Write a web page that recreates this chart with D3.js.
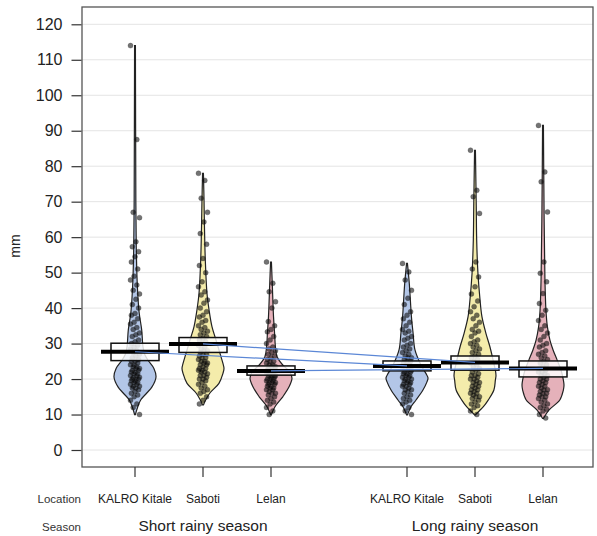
<!DOCTYPE html>
<html>
<head>
<meta charset="utf-8">
<script src="https://d3js.org/d3.v7.min.js"></script>
<style>
  body { margin: 0; background: #fff; }
  svg { font-family: "Liberation Sans", Arial, sans-serif; }
</style>
</head>
<body>
<svg width="597" height="536"></svg>
<script>
// categories
var locations = ["KALRO Kitale", "Saboti", "Lelan", "KALRO Kitale", "Saboti", "Lelan"];
var seasons = ["Short rainy season", "Long rainy season"];
var groupPos = [1, 2, 3, 5, 6, 7];
var yTicks = [0, 10, 20, 30, 40, 50, 60, 70, 80, 90, 100, 110, 120];

// means and inference band (lower, upper) in mm
var means = [27.7, 29.9, 22.3, 23.7, 24.7, 23.0];
var bandLow = [25.2, 27.5, 21.1, 22.3, 22.5, 20.6];
var bandHigh = [30.1, 31.7, 23.7, 25.1, 26.5, 25.1];

// observations (mm)
var kitaleShort = [114, 87.5, 67, 65.5, 58.7, 57.3, 55.9, 54.5, 53, 51, 49, 47.9, 46.5, 45, 44, 42.5, 41, 40, 38.5, 38, 37, 36, 35.5, 34.5, 34, 33, 32.5, 32, 31, 30.5, 30, 29.5, 29, 28.5, 28, 27.5, 27, 26.5, 26, 25.5, 25, 25, 24.5, 24, 24, 23.5, 23.5, 23, 23, 22.5, 22.5, 22, 22, 21.5, 21.5, 21, 21, 20.5, 20.5, 20, 20, 20, 19.5, 19.5, 19, 19, 18.5, 18.5, 18, 18, 17.5, 17.5, 17, 16.5, 16, 15.5, 15, 14, 13, 12, 10];
var sabotiShort = [78, 76, 71, 67, 64.3, 61, 58, 54, 52, 50, 47.4, 46, 44.6, 43.7, 42.3, 41.4, 40, 39, 38, 37.5, 36.5, 36, 35, 34.5, 34, 33.5, 33, 32.5, 32, 31.5, 31, 30.5, 30, 29.5, 29, 28.5, 28, 28, 27.5, 27, 27, 26.5, 26, 26, 25.5, 25, 25, 24.5, 24.5, 24, 24, 23.5, 23, 23, 22.5, 22.5, 22, 22, 21.5, 21, 21, 20.5, 20, 20, 19.5, 19, 18.5, 18, 17.5, 17, 16.5, 16, 15, 14, 13];
var lelanShort = [53, 47, 44.6, 41.8, 40, 36.2, 35, 34, 33.3, 32, 31, 30, 29, 28.5, 28, 27.5, 27, 26.5, 26, 25.5, 25, 25, 24.5, 24, 24, 23.5, 23.5, 23, 23, 22.5, 22.5, 22, 22, 22, 21.5, 21.5, 21, 21, 21, 20.5, 20.5, 20, 20, 20, 19.5, 19.5, 19, 19, 19, 18.5, 18.5, 18, 18, 17.5, 17.5, 17, 17, 16.5, 16, 16, 15.5, 15, 14.5, 14, 13.5, 13, 12, 11, 10];
var kitaleLong = [52.6, 50.2, 47.9, 45, 42.8, 41, 39, 38, 37, 36, 35, 34, 33.5, 33, 32, 31.5, 31, 30, 29.5, 29, 28.5, 28, 27.5, 27, 26.5, 26, 26, 25.5, 25, 25, 24.5, 24, 24, 23.5, 23, 23, 22.5, 22.5, 22, 22, 21.5, 21.5, 21, 21, 20.5, 20.5, 20, 20, 19.5, 19.5, 19, 19, 18.5, 18.5, 18, 18, 17.5, 17, 17, 16.5, 16, 15.5, 15, 14.5, 14, 13.5, 13, 12, 11, 10];
var sabotiLong = [84.5, 73.2, 71.4, 66.7, 53, 51, 48.8, 46, 44, 42, 40.4, 39, 38, 37, 36, 35, 34, 33.5, 33, 32, 31, 30.5, 30, 29.5, 29, 28.5, 28, 27.5, 27, 26.5, 26, 25.5, 25, 24.5, 24, 23.5, 23, 22.5, 22, 21.5, 21, 21, 20.5, 20, 20, 19.5, 19, 19, 18.5, 18, 18, 17.5, 17, 17, 16.5, 16, 16, 15.5, 15, 15, 14.5, 14, 13.5, 13, 12.5, 12, 11, 10];
var lelanLong = [91.5, 78.4, 75.6, 67.1, 53, 49.8, 47.4, 44.1, 41.3, 39.4, 38, 36.5, 35, 34, 33, 32, 31, 30, 29.5, 29, 28, 27.5, 27, 26.5, 26, 25.5, 25, 24.5, 24, 23.5, 23, 22.5, 22, 22, 21.5, 21, 21, 20.5, 20, 20, 19.5, 19, 19, 18.5, 18, 18, 17.5, 17, 17, 16.5, 16, 16, 15.5, 15, 15, 14.5, 14, 13.5, 13, 12.5, 12, 11.5, 11, 10, 9];

// bean outline: [mm, relative density]
var kitaleShortDens = [[10, 0.02], [12, 0.12], [14.1, 0.27], [16, 0.55], [17.8, 0.81], [20.6, 1.0], [23, 0.9], [25.3, 0.62], [27, 0.46], [29.1, 0.38], [33.8, 0.32], [38.6, 0.2], [43.2, 0.14], [47.9, 0.1], [57.3, 0.06], [70, 0.04], [90, 0.03], [114, 0.02]];
var sabotiShortDens = [[12.7, 0.02], [14, 0.12], [16, 0.32], [18.8, 0.76], [21.6, 0.95], [23, 1.0], [24.4, 0.95], [26.8, 0.83], [31, 0.62], [34.7, 0.43], [39.4, 0.29], [44.1, 0.19], [53.5, 0.11], [62.9, 0.07], [70, 0.05], [78, 0.02]];
var lelanShortDens = [[10, 0.02], [12.2, 0.19], [15, 0.56], [17.8, 0.86], [20.2, 1.0], [22, 0.9], [23.9, 0.57], [26.3, 0.29], [29.1, 0.21], [32.9, 0.17], [37.6, 0.12], [46.9, 0.06], [53, 0.02]];
var kitaleLongDens = [[9.9, 0.02], [12.2, 0.19], [14.1, 0.43], [16.9, 0.76], [19.2, 0.95], [20.3, 1.0], [21.6, 0.9], [23.9, 0.67], [28.2, 0.38], [32.9, 0.29], [37.6, 0.21], [42.3, 0.16], [46.9, 0.11], [52.6, 0.02]];
var sabotiLongDens = [[9.9, 0.02], [11, 0.2], [12.2, 0.4], [14, 0.62], [16.9, 0.9], [19.7, 0.97], [21, 1.0], [22.5, 0.97], [25.4, 0.86], [29.1, 0.71], [32.9, 0.52], [37.6, 0.33], [42.3, 0.24], [49.8, 0.14], [59.2, 0.08], [68.6, 0.06], [84.5, 0.02]];
var lelanLongDens = [[8.9, 0.02], [11.3, 0.29], [14.1, 0.8], [16.9, 0.97], [18.3, 1.0], [19.7, 0.97], [22.5, 0.86], [25.4, 0.67], [28.2, 0.48], [31, 0.33], [34.7, 0.21], [39.4, 0.14], [48.8, 0.09], [67.6, 0.05], [91.5, 0.02]];

var points = [kitaleShort, sabotiShort, lelanShort, kitaleLong, sabotiLong, lelanLong];
var dens = [kitaleShortDens, sabotiShortDens, lelanShortDens, kitaleLongDens, sabotiLongDens, lelanLongDens];

var fills = ["#b3c6e7", "#f4ecab", "#e5b1ba", "#b3c6e7", "#f4ecab", "#e5b1ba"];

var svg = d3.select("svg");
var frame = {left: 82, right: 593, top: 7, bottom: 467};

var x = d3.scaleLinear().domain([1, 7]).range([135, 543]);
var y = d3.scaleLinear().domain([0, 120]).range([450, 24.3]);
var w = d3.scaleLinear().domain([0, 1]).range([0, 21]);

// grid
svg.append("g").selectAll("line").data(yTicks).enter().append("line")
    .attr("x1", frame.left).attr("x2", frame.right)
    .attr("y1", function(d){ return y(d); }).attr("y2", function(d){ return y(d); })
    .attr("stroke", "#e4e4e4").attr("stroke-width", 1);

var g = svg.append("g");

// beans
var area = d3.area()
    .curve(d3.curveCatmullRom.alpha(0.5))
    .y(function(d){ return y(d[0]); });

dens.forEach(function(dd, i){
    var cx = x(groupPos[i]);
    area.x0(function(d){ return cx - w(d[1]); }).x1(function(d){ return cx + w(d[1]); });
    g.append("path").attr("d", area(dd))
        .attr("fill", fills[i]).attr("stroke", "#222").attr("stroke-width", 1.2);
});

// points, narrow jitter
points.forEach(function(pts, i){
    var cx = x(groupPos[i]);
    g.append("g").selectAll("circle").data(pts).enter().append("circle")
        .attr("cx", function(d, j){ return cx + (((j * 29) % 11) - 5) * 0.9; })
        .attr("cy", function(d){ return y(d); })
        .attr("r", 2.5)
        .attr("fill", "rgba(0,0,0,0.55)")
        .attr("stroke", "rgba(50,50,50,0.5)")
        .attr("stroke-width", 0.6);
});

// inference bands
g.append("g").selectAll("rect").data(means).enter().append("rect")
    .attr("x", function(d, i){ return x(groupPos[i]) - 24; })
    .attr("width", 48)
    .attr("y", function(d, i){ return y(bandHigh[i]); })
    .attr("height", function(d, i){ return y(bandLow[i]) - y(bandHigh[i]); })
    .attr("fill", "rgba(255,255,255,0.82)")
    .attr("stroke", "#111").attr("stroke-width", 1.5);

// mean bars
g.append("g").selectAll("line").data(means).enter().append("line")
    .attr("x1", function(d, i){ return x(groupPos[i]) - 34; })
    .attr("x2", function(d, i){ return x(groupPos[i]) + 34; })
    .attr("y1", function(d){ return y(d); })
    .attr("y2", function(d){ return y(d); })
    .attr("stroke", "#000").attr("stroke-width", 4);

// lines joining same location across seasons
[0, 1, 2].forEach(function(i){
    g.append("line")
        .attr("x1", x(groupPos[i])).attr("y1", y(means[i]))
        .attr("x2", x(groupPos[i + 3])).attr("y2", y(means[i + 3]))
        .attr("stroke", "#5b87d6").attr("stroke-width", 1.2);
});

// frame
svg.append("rect")
    .attr("x", frame.left).attr("y", frame.top)
    .attr("width", frame.right - frame.left).attr("height", frame.bottom - frame.top)
    .attr("fill", "none").attr("stroke", "#555").attr("stroke-width", 1.3);

// y axis
var yAxis = d3.axisLeft(y).tickValues(yTicks).tickSize(10).tickPadding(9);
var ya = svg.append("g").attr("transform", "translate(" + (frame.left - 0.5) + ",0)").call(yAxis);
ya.select(".domain").remove();
ya.selectAll("line").attr("stroke", "#333").attr("stroke-width", 1.2);
ya.selectAll("text").attr("font-size", 16).attr("fill", "#222")
    .attr("font-family", "Liberation Sans, Arial, sans-serif");

svg.append("text")
    .attr("transform", "translate(20,246) rotate(-90)")
    .attr("text-anchor", "middle")
    .attr("font-size", 14).attr("fill", "#222")
    .text("mm");

// x ticks
svg.append("g").selectAll("line").data(groupPos).enter().append("line")
    .attr("x1", function(d){ return x(d); }).attr("x2", function(d){ return x(d); })
    .attr("y1", frame.bottom).attr("y2", frame.bottom + 10)
    .attr("stroke", "#333").attr("stroke-width", 1.2);

// location labels
svg.append("text").attr("x", 81).attr("y", 503).attr("text-anchor", "end")
    .attr("font-size", 11.5).attr("fill", "#333").text("Location");
svg.append("g").selectAll("text").data(locations).enter().append("text")
    .attr("x", function(d, i){ return x(groupPos[i]); })
    .attr("y", 503)
    .attr("text-anchor", "middle")
    .attr("font-size", 12).attr("fill", "#222")
    .text(function(d){ return d; });

// season labels
svg.append("text").attr("x", 81).attr("y", 531).attr("text-anchor", "end")
    .attr("font-size", 11.5).attr("fill", "#333").text("Season");
svg.append("g").selectAll("text").data(seasons).enter().append("text")
    .attr("x", function(d, i){ return x(groupPos[i * 3 + 1]); })
    .attr("y", 531)
    .attr("text-anchor", "middle")
    .attr("font-size", 15.5).attr("fill", "#222")
    .text(function(d){ return d; });
</script>
</body>
</html>
